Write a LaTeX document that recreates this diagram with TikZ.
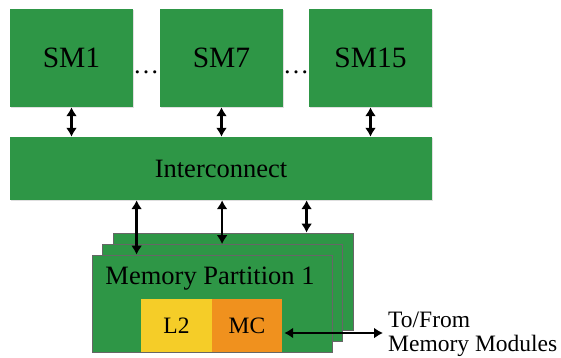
\documentclass[tikz,border=0pt]{standalone}
\usepackage{fontspec}
\setmainfont{Liberation Serif}
\usetikzlibrary{arrows.meta,shadows}
\definecolor{boxgreen}{RGB}{46,150,70}
\definecolor{l2yellow}{RGB}{245,205,40}
\definecolor{mcorange}{RGB}{240,145,30}
\tikzset{
  smbox/.style={fill=boxgreen, draw=none, inner sep=0pt,
    drop shadow={shadow xshift=1.2pt, shadow yshift=-1.2pt, opacity=0.25},
    font=\fontsize{29.5}{31}\selectfont},
  partbox/.style={fill=boxgreen, draw=black!60, line width=0.8pt, inner sep=0pt,
    minimum width=240pt, minimum height=97pt},
  cachebox/.style={draw=none, inner sep=0pt, minimum height=53pt,
    font=\fontsize{23.5}{25}\selectfont},
  biarrow/.style={line width=2.4pt, {Latex[length=9pt,width=11pt]}-{Latex[length=9pt,width=11pt]}},
}
\begin{document}
\begin{tikzpicture}[x=1pt,y=-1pt]
\useasboundingbox (0,0) rectangle (561,357);
% SMs
\node[smbox, minimum width=123pt, minimum height=98pt] (sm1) at (71.5,58) {SM1};
\node[smbox, minimum width=123pt, minimum height=98pt] (sm7) at (221.5,58) {SM7};
\node[smbox, minimum width=123pt, minimum height=98pt] (sm15) at (370.5,58) {SM15};
\node[font=\fontsize{26}{28}\selectfont, anchor=base, inner sep=0pt] (dots1) at (146,73) {…};
\node[font=\fontsize{26}{28}\selectfont, anchor=base, inner sep=0pt] (dots2) at (296,73) {…};
% Interconnect
\node[smbox, minimum width=422pt, minimum height=63pt, font=\fontsize{26.5}{28}\selectfont] (ic) at (221,168.5) {Interconnect};
% Memory partitions
\node[partbox] (back) at (233,281.5) {};
\node[partbox] (mid) at (222.5,293) {};
\node[partbox] (front) at (212,303.5) {};
\node[anchor=base, inner sep=0pt, font=\fontsize{26.5}{28}\selectfont] (mplabel) at (210,284) {Memory Partition 1};
\node[cachebox, fill=l2yellow, minimum width=71pt] (l2) at (176.5,325.5) {L2};
\node[cachebox, fill=mcorange, minimum width=70pt] (mc) at (247,325.5) {MC};
% arrows SM - interconnect
\draw[biarrow] (sm1.south) -- (sm1.south |- ic.north);
\draw[biarrow] (sm7.south) -- (sm7.south |- ic.north);
\draw[biarrow] (sm15.south) -- (sm15.south |- ic.north);
% arrows interconnect - partitions
\draw[biarrow] ([xshift=45pt]front.north west |- ic.south) -- ([xshift=45pt]front.north west);
\draw[biarrow] ([xshift=120pt]mid.north west |- ic.south) -- ([xshift=120pt]mid.north west);
\draw[biarrow] ([xshift=194pt]back.north west |- ic.south) -- ([xshift=194pt]back.north west);
% external
\coordinate (ext) at (383,333);
\draw[biarrow] ([xshift=2pt]mc.east |- ext) -- (ext);
\node[anchor=west, align=left, inner sep=0pt, font=\fontsize{23.5}{24}\selectfont] (extlabel) at (388,334) {To/From\\Memory Modules};
\end{tikzpicture}
\end{document}
